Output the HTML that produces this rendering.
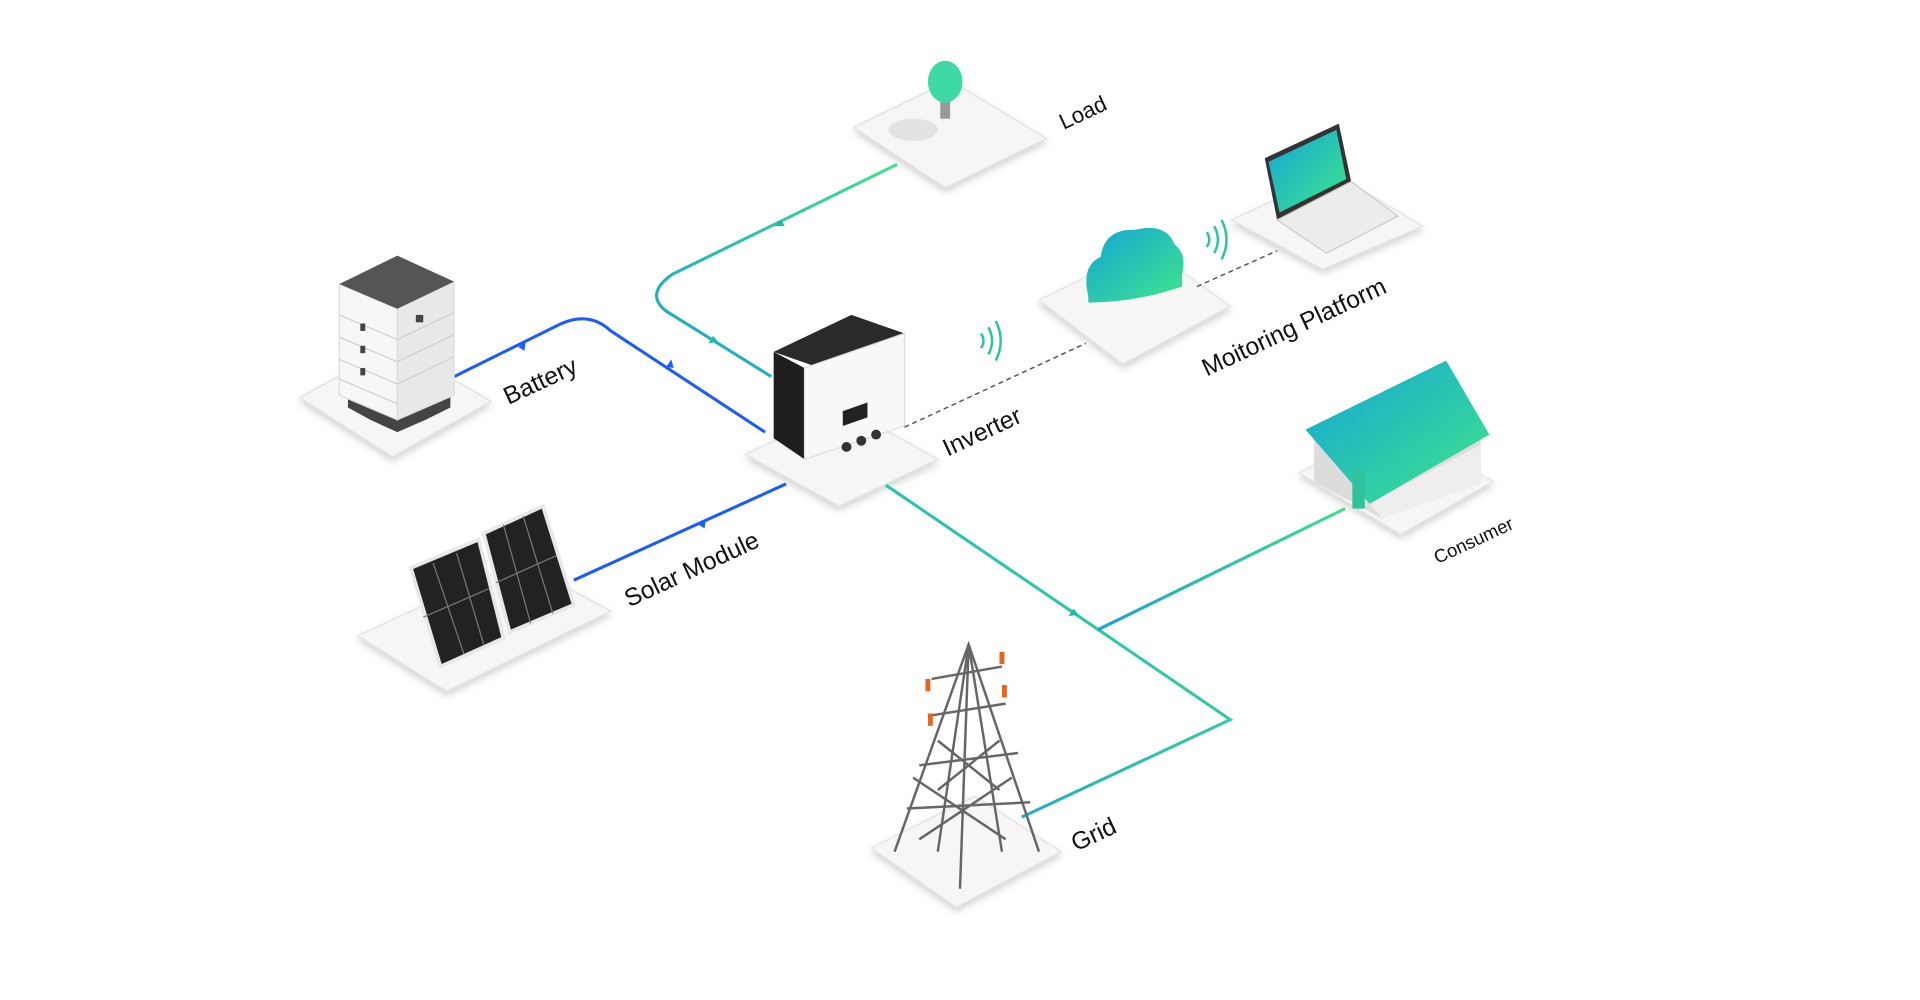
<!DOCTYPE html>
<html><head><meta charset="utf-8"><style>
html,body{margin:0;padding:0;background:#fff;width:1920px;height:1000px;overflow:hidden}
svg text{font-family:"Liberation Sans",sans-serif;fill:#111}
</style></head><body>
<svg width="1920" height="1000" viewBox="0 0 1556 810" xmlns="http://www.w3.org/2000/svg">
<defs>
<linearGradient id="tg" x1="0" y1="1" x2="1" y2="0"><stop offset="0" stop-color="#1aa3d6"/><stop offset="1" stop-color="#3ee08a"/></linearGradient>
<linearGradient id="hg" x1="0" y1="0" x2="1" y2="1"><stop offset="0" stop-color="#13a5d8"/><stop offset="1" stop-color="#40e58a"/></linearGradient>
<filter id="sh" x="-20%" y="-20%" width="140%" height="160%"><feDropShadow dx="0" dy="3" stdDeviation="3" flood-color="#000" flood-opacity="0.18"/></filter>
</defs>
<g fill="#f6f6f6" stroke="#e2e2e2" filter="url(#sh)">
<polygon points="692,103 770,65 848,112 766,152"/>
<polygon points="998,178 1080,140 1153,183 1072,218"/>
<polygon points="842,243 930,200 997,248 910,295"/>
<polygon points="243,322 320,280 398,325 318,370"/>
<polygon points="604,368 685,330 760,372 680,410"/>
<polygon points="290,515 420,455 495,495 362,560"/>
<polygon points="1053,383 1130,345 1210,390 1135,433"/>
<polygon points="706,687 790,645 860,690 775,735"/>
</g>
<g fill="none" stroke-width="2.5">
<path d="M368,305 L455,262 Q478,252 495,268 L620,350" stroke="#1a5cff"/>
<path d="M465,470 L637,392" stroke="#1a5cff"/>
<path d="M625,305 L540,252 Q522,238 545,222 L727,133" stroke="url(#tg)"/>
<path d="M718,393 L890,510 L997,583 L828,662" stroke="url(#tg)"/>
<path d="M890,510 L1090,412" stroke="url(#tg)"/>
</g>
<g fill="none" stroke="#555" stroke-width="1.2" stroke-dasharray="4,3">
<path d="M733,346 L880,278"/><path d="M970,232 L1035,203"/>
</g>
<g fill="#1a5cff"><polygon points="420,281 426,277 425,284"/><polygon points="540,297 544,291 546,298"/><polygon points="566,425 572,421 571,428"/></g>
<g fill="#22b8a8"><polygon points="633,178 627,183 636,183"/><polygon points="578,272 574,278 582,277"/><polygon points="870,493 866,499 874,498"/></g>
<!-- bulb -->
<ellipse cx="740" cy="105" rx="20" ry="9" fill="#e2e2e2"/>
<rect x="762" y="80" width="8" height="16" fill="#999"/>
<ellipse cx="766" cy="66" rx="14" ry="17" fill="#3fd9a8"/>
<!-- laptop -->
<polygon points="1025,128 1085,100 1095,147 1035,178" fill="#333"/>
<polygon points="1028,131 1083,105 1091,145 1037,172" fill="url(#hg)"/>
<polygon points="1035,178 1095,147 1133,175 1075,205" fill="#ececec" stroke="#ccc"/>
<!-- cloud -->
<path d="M882,240 Q876,215 892,208 Q895,185 920,186 Q945,180 952,198 Q962,205 958,222 L958,232 Q920,245 882,245Z" fill="url(#hg)"/>
<g fill="none" stroke="#2bc5a0" stroke-width="2"><path d="M978,188 q4,6 0,12"/><path d="M984,183 q6,11 0,22"/><path d="M990,178 q8,16 0,32"/><path d="M795,270 q4,6 0,12"/><path d="M801,265 q6,11 0,22"/><path d="M807,260 q8,16 0,32"/></g>
<!-- battery -->
<polygon points="282,330 300,340 322,350 345,340 365,330 365,320 322,340 282,320" fill="#444"/>
<polygon points="275,230 322,250 322,340 275,320" fill="#f7f7f7" stroke="#ddd"/>
<polygon points="322,250 368,228 368,320 322,340" fill="#e8e8e8" stroke="#ddd"/>
<polygon points="275,230 322,207 368,228 322,250" fill="#555"/>
<g stroke="#d0d0d0"><line x1="275" y1="255" x2="322" y2="275"/><line x1="275" y1="273" x2="322" y2="293"/><line x1="275" y1="291" x2="322" y2="311"/><line x1="275" y1="307" x2="322" y2="327"/><line x1="322" y1="275" x2="368" y2="253"/><line x1="322" y1="293" x2="368" y2="271"/><line x1="322" y1="311" x2="368" y2="289"/></g>
<g fill="#444"><rect x="292" y="262" width="4" height="6"/><rect x="292" y="280" width="4" height="6"/><rect x="292" y="298" width="4" height="6"/><rect x="337" y="255" width="6" height="6"/></g>
<!-- inverter -->
<polygon points="627,285 690,255 733,270 670,300" fill="#2a2a2a"/>
<polygon points="627,285 652,298 652,372 627,355" fill="#1e1e1e"/>
<polygon points="652,298 733,270 733,345 652,372" fill="#f8f8f8" stroke="#ddd"/>
<polygon points="683,333 703,326 703,338 683,345" fill="#222"/>
<g fill="#333"><circle cx="686" cy="362" r="4"/><circle cx="698" cy="357" r="4"/><circle cx="710" cy="352" r="4"/></g>
<!-- solar -->
<polygon points="333,460 388,437 408,517 357,540" fill="#222" stroke="#e8e8e8" stroke-width="3"/>
<polygon points="392,432 440,410 465,490 413,512" fill="#222" stroke="#e8e8e8" stroke-width="3"/>
<g stroke="#777" stroke-width="1"><line x1="343" y1="500" x2="396" y2="477"/><line x1="402" y1="472" x2="451" y2="450"/><line x1="351" y1="456" x2="376" y2="530"/><line x1="370" y1="448" x2="392" y2="522"/><line x1="408" y1="425" x2="430" y2="505"/><line x1="424" y1="418" x2="448" y2="497"/></g>
<!-- house -->
<polygon points="1065,350 1105,330 1200,355 1200,390 1120,420 1065,390" fill="#dcdcdc"/>
<polygon points="1110,408 1200,360 1200,392 1120,420" fill="#eeeeee"/>
<polygon points="1058,348 1172,292 1207,352 1110,408" fill="url(#hg)"/>
<rect x="1096" y="380" width="10" height="32" fill="#2fc39a"/>
<!-- tower -->
<g stroke="#666" stroke-width="2" fill="none"><path d="M725,690 L785,522 L842,690"/><path d="M760,690 L785,522 L812,690"/><path d="M755,550 L812,540 M752,580 L815,570 M745,620 L825,610 M735,655 L835,650 M740,630 L815,680 M820,630 L745,680 M760,600 L810,640 M810,600 L760,640"/><line x1="778" y1="720" x2="785" y2="522"/></g>
<g fill="#e6661f"><rect x="750" y="550" width="4" height="10"/><rect x="810" y="528" width="4" height="10"/><rect x="752" y="578" width="4" height="10"/><rect x="812" y="555" width="4" height="10"/></g>
<g font-size="20">
<text transform="translate(862,105) rotate(-25)" font-size="18">Load</text>
<text transform="translate(412,328) rotate(-25)">Battery</text>
<text transform="translate(510,492) rotate(-25)">Solar Module</text>
<text transform="translate(768,370) rotate(-25)">Inverter</text>
<text transform="translate(978,305) rotate(-25)">Moitoring Platform</text>
<text transform="translate(1165,457) rotate(-25)" font-size="15">Consumer</text>
<text transform="translate(872,690) rotate(-25)">Grid</text>
</g>
</svg>
</body></html>
